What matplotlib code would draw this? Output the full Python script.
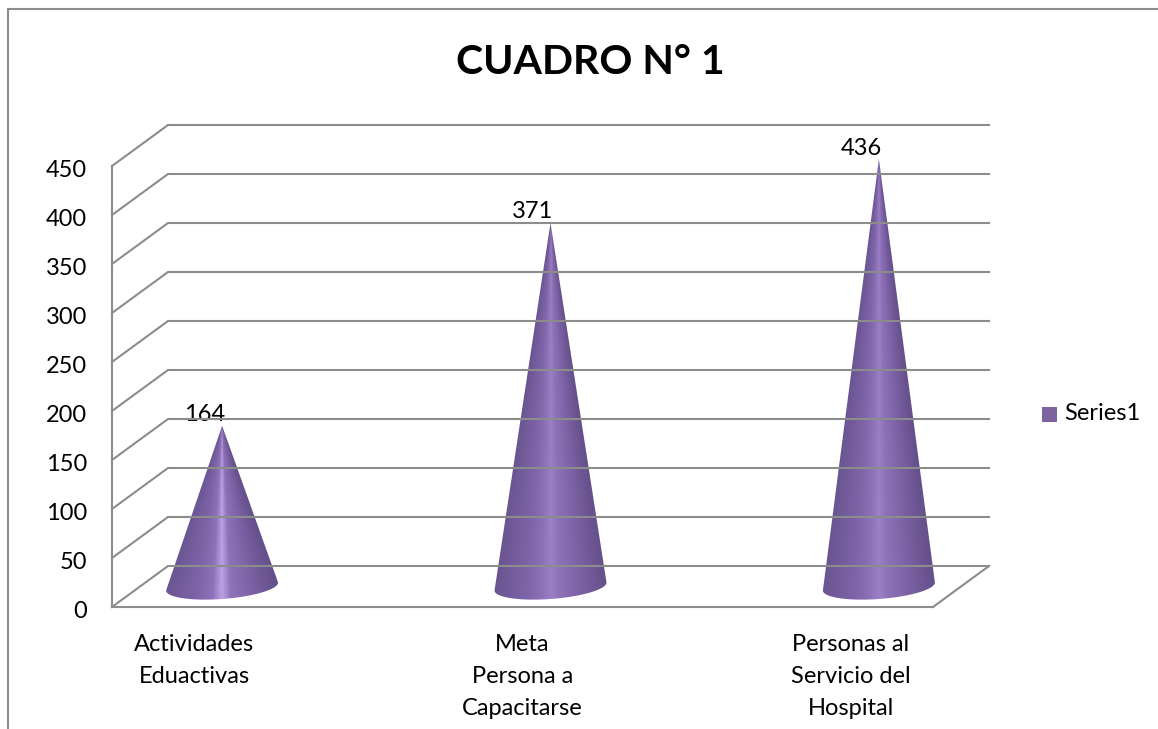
import numpy as np
import matplotlib
matplotlib.use('Agg')
import matplotlib.pyplot as plt
from matplotlib.colors import LinearSegmentedColormap
from matplotlib.lines import Line2D
from matplotlib.patches import Polygon, Rectangle
from matplotlib.transforms import Affine2D

plt.rcParams['font.family'] = ['Lato', 'DejaVu Sans']

# Data
categories = ['Actividades\nEduactivas', 'Meta\nPersona a\nCapacitarse', 'Personas al\nServicio del\nHospital']
values = [164, 371, 436]
y_ticks = [0, 50, 100, 150, 200, 250, 300, 350, 400, 450]
series_name = 'Series1'
title = 'CUADRO N° 1'

W, H = 1158, 729
GRID = '#8c8c8c'
DX, DY = 56, 41   # depth of the 3d box, in pixels
FS = 17

fig = plt.figure(figsize=(W / 100, H / 100), dpi=100)

# front face of the box
left, right, top, bottom = 112, 933, 166, 607
ax = fig.add_axes([left / W, 1 - bottom / H, (right - left) / W, (bottom - top) / H])
ax.set_xlim(-0.25, 2.25)
ax.set_ylim(0, 450)
ax.axis('off')

back_tr = ax.transData + Affine2D().translate(DX, DY)
mid_tr = ax.transData + Affine2D().translate(DX / 2, DY / 2)

# gridlines: along the side wall and along the back wall
for v in y_ticks:
    side_a = ax.transData.transform((-0.25, v))
    side_b = back_tr.transform((-0.25, v))
    end = back_tr.transform((2.25, v))
    fig.add_artist(Line2D([side_a[0], side_b[0], end[0]], [side_a[1], side_b[1], end[1]],
                          transform=None, color=GRID, lw=1.5, solid_joinstyle='miter'))
    ax.text(-0.25, v, str(v), transform=ax.transData + Affine2D().translate(-25, -4.5),
            ha='right', va='center', fontsize=FS, color='black')

# vertical axis and floor
ax.plot([-0.25, -0.25], [0, 450], color=GRID, lw=1.5, clip_on=False)
ax.plot([-0.25, 2.25], [0, 0], color=GRID, lw=1.5, clip_on=False)
fr = ax.transData.transform((2.25, 0))
br = back_tr.transform((2.25, 0))
fig.add_artist(Line2D([fr[0], br[0]], [fr[1], br[1]], transform=None, color=GRID, lw=1.5))

# cones
shade = [(0.00, '#6a5490'), (0.10, '#715a99'), (0.30, '#7f65a9'), (0.42, '#8d72b8'),
         (0.50, '{c}'), (0.58, '#8d72b8'), (0.75, '#7d63a6'), (0.92, '#6c5592'), (1.00, '#64508a')]
centers = ['#bba2e4', '#9c80c6', '#9c80c6']

half_w = 56 / (ax.transData.transform((1, 0))[0] - ax.transData.transform((0, 0))[0])
px_per_val = (bottom - top) / 450
semi_minor = 12.5 / px_per_val
slope = 4.0 / px_per_val   # tilt of the base ellipse

for i, v in enumerate(values):
    t = np.linspace(np.pi, 2 * np.pi, 80)
    xs = i + half_w * np.cos(t)
    ys = semi_minor * np.sin(t) + slope * np.cos(t)
    pts = np.column_stack([xs, ys])
    pts = np.vstack([pts, [i, v]])

    cmap = LinearSegmentedColormap.from_list(
        'cone', [(p, c.format(c=centers[i])) for p, c in shade])
    gx = np.linspace(i - half_w * 1.05, i + half_w * 1.05, 260)
    gy = np.linspace(-semi_minor - 5, v, 500)
    X, Y = np.meshgrid(gx, gy)
    u = (X - i) / (half_w * np.clip((v - Y) / v, 0.002, None))
    im = ax.imshow((u + 1) / 2, extent=[gx[0], gx[-1], gy[0], gy[-1]], origin='lower',
                   aspect='auto', cmap=cmap, vmin=0, vmax=1, interpolation='bilinear',
                   transform=mid_tr, zorder=3)
    poly = Polygon(pts, closed=True, transform=mid_tr, facecolor='none', edgecolor='none')
    ax.add_patch(poly)
    im.set_clip_path(poly)
    im.set_clip_box(fig.bbox)   # the cone sticks out past the front face
    ax.text(i, v, str(v), transform=mid_tr + Affine2D().translate(-18, 11), ha='center', va='center',
            fontsize=FS, color='black', zorder=4)
ax.set_xlim(-0.25, 2.25)
ax.set_ylim(0, 450)

# category labels
for i, c in enumerate(categories):
    ax.text(i, 0, c, transform=ax.transData + Affine2D().translate(0, -27), ha='center', va='top',
            fontsize=FS, linespacing=1.64, color='black')

# title
fig.text(590.5 / W, 1 - 63 / H, title, ha='center', va='center', fontsize=29.5, fontweight='bold', color='black')

# legend
fig.add_artist(Rectangle((1042 / W, 1 - 422 / H), 15 / W, 15 / H, transform=fig.transFigure,
                         facecolor='#7f63a1', edgecolor='none'))
fig.text(1064 / W, 1 - 414 / H, series_name, ha='left', va='center', fontsize=FS, color='black')

# chart border, only the parts that show
fig.add_artist(Line2D([8 / W, 8 / W, 1 + 0.01], [0, 1 - 9 / H, 1 - 9 / H], transform=fig.transFigure,
                      color=GRID, lw=1.5, solid_joinstyle='miter'))

fig.savefig('out.png', dpi=100)
